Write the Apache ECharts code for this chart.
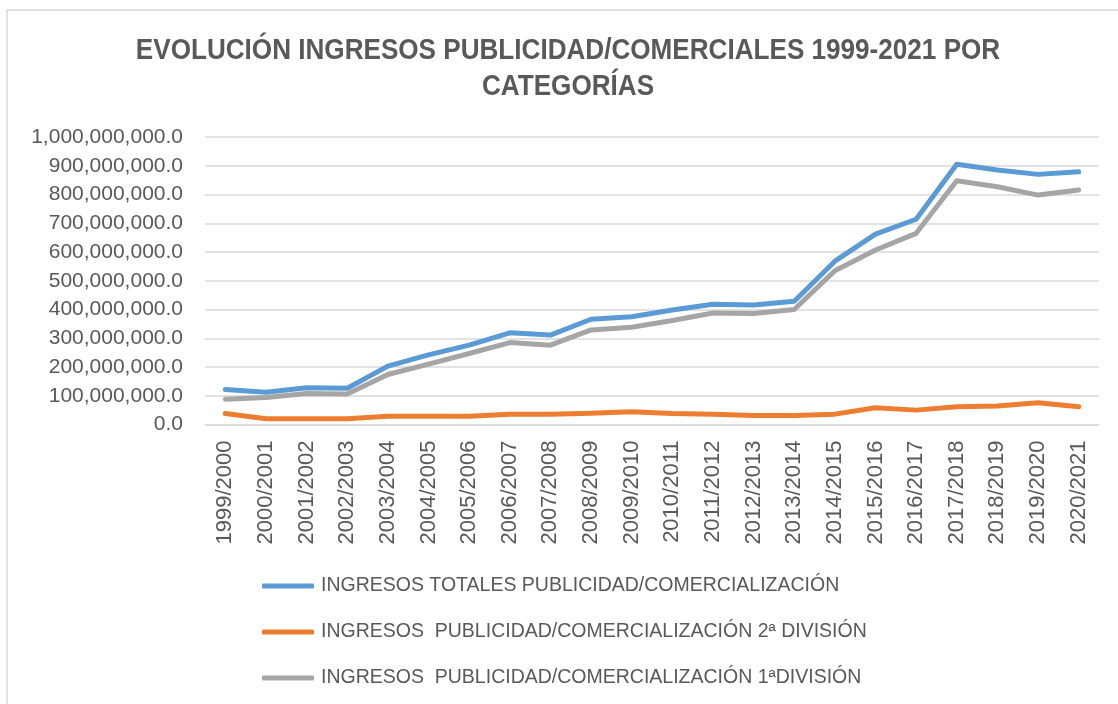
<!DOCTYPE html>
<html>
<head>
<meta charset="utf-8">
<title>Evolución ingresos publicidad</title>
<script src="https://cdn.jsdelivr.net/npm/echarts@6/dist/echarts.min.js"></script>
<style>
  html, body { margin: 0; padding: 0; background: #fff; }
  #chart { width: 1118px; height: 704px; }
</style>
</head>
<body>
<div id="chart"></div>
<script>
// temporadas
const seasons = [
  '1999/2000', '2000/2001', '2001/2002', '2002/2003', '2003/2004', '2004/2005',
  '2005/2006', '2006/2007', '2007/2008', '2008/2009', '2009/2010', '2010/2011',
  '2011/2012', '2012/2013', '2013/2014', '2014/2015', '2015/2016', '2016/2017',
  '2017/2018', '2018/2019', '2019/2020', '2020/2021'
];

// valores (euros)
const totales = [
  122e6, 112e6, 128e6, 126e6, 203e6, 242e6, 276e6, 319e6, 311e6, 366e6, 375e6,
  398e6, 418e6, 416e6, 429e6, 568e6, 662e6, 714e6, 905e6, 885e6, 870e6, 879e6
];
const segunda = [
  38e6, 20e6, 20e6, 20e6, 29e6, 29e6, 29e6, 36e6, 36e6, 39e6, 44e6,
  38e6, 36e6, 31e6, 31e6, 36e6, 58e6, 50e6, 62e6, 64e6, 76e6, 62e6
];
const primera = [
  88e6, 94e6, 108e6, 106e6, 174e6, 210e6, 247e6, 285e6, 276e6, 329e6, 338e6,
  362e6, 388e6, 386e6, 400e6, 535e6, 607e6, 665e6, 848e6, 827e6, 798e6, 816e6
];

const seriesNames = [
  'INGRESOS TOTALES PUBLICIDAD/COMERCIALIZACIÓN',
  'INGRESOS  PUBLICIDAD/COMERCIALIZACIÓN 2ª DIVISIÓN',
  'INGRESOS  PUBLICIDAD/COMERCIALIZACIÓN 1ªDIVISIÓN'
];
const colors = ['#5B9BD5', '#ED7D31', '#A5A5A5'];

const chartTitle = 'EVOLUCIÓN INGRESOS PUBLICIDAD/COMERCIALES 1999-2021 POR\nCATEGORÍAS';

const textColor = '#595959';
const font = 'Liberation Sans, Arial, sans-serif';

const chart = echarts.init(document.getElementById('chart'));

const makeLine = (name, data, color) => ({
  name,
  type: 'line',
  data,
  symbol: 'none',
  lineStyle: { width: 5, color, cap: 'round', join: 'round' },
  itemStyle: { color },
});

const option = {
  animation: false,
  color: colors,
  graphic: [
    {
      type: 'rect',
      shape: { x: 7, y: 10, width: 1300, height: 900 },
      style: { fill: 'none', stroke: '#d9d9d9', lineWidth: 1.5 },
      silent: true,
    },
    {
      // titulo algo estrecho, como en el original
      type: 'text',
      x: 568,
      y: 33,
      scaleX: 0.9,
      silent: true,
      style: {
        text: chartTitle,
        textAlign: 'center',
        textVerticalAlign: 'top',
        font: 'bold 29px Liberation Sans, Arial, sans-serif',
        lineHeight: 36,
        fill: textColor,
      },
    },
  ],
  legend: {
    orient: 'vertical',
    left: 257,
    top: 570,
    icon: 'roundRect',
    itemWidth: 52,
    itemHeight: 5,
    itemGap: 24,
    textStyle: { fontFamily: font, fontSize: 19.5, lineHeight: 22, color: textColor, padding: [0, 0, 0, 2] },
    data: seriesNames,
  },
  grid: {
    left: 205,
    right: 19,
    top: 137,
    bottom: 279.5,
    containLabel: false,
  },
  xAxis: {
    type: 'category',
    data: seasons,
    boundaryGap: true,
    axisTick: { show: false },
    axisLine: { lineStyle: { color: '#d9d9d9', width: 1.5 } },
    axisLabel: {
      rotate: 90,
      margin: 16,
      interval: 0,
      fontFamily: font,
      fontSize: 22,
      color: textColor,
    },
  },
  yAxis: {
    type: 'value',
    min: 0,
    max: 1000000000,
    interval: 100000000,
    axisLine: { show: false },
    axisTick: { show: false },
    splitLine: { lineStyle: { color: '#d9d9d9', width: 1.5 } },
    axisLabel: {
      margin: 22,
      fontFamily: font,
      fontSize: 21,
      color: textColor,
      formatter: (v) => v.toLocaleString('en-US', { minimumFractionDigits: 1, maximumFractionDigits: 1 }),
    },
  },
  series: [
    makeLine(seriesNames[0], totales, colors[0]),
    makeLine(seriesNames[1], segunda, colors[1]),
    makeLine(seriesNames[2], primera, colors[2]),
  ],
};

option && chart.setOption(option);

window.addEventListener('resize', function() {
  chart.resize();
});
</script>
</body>
</html>
